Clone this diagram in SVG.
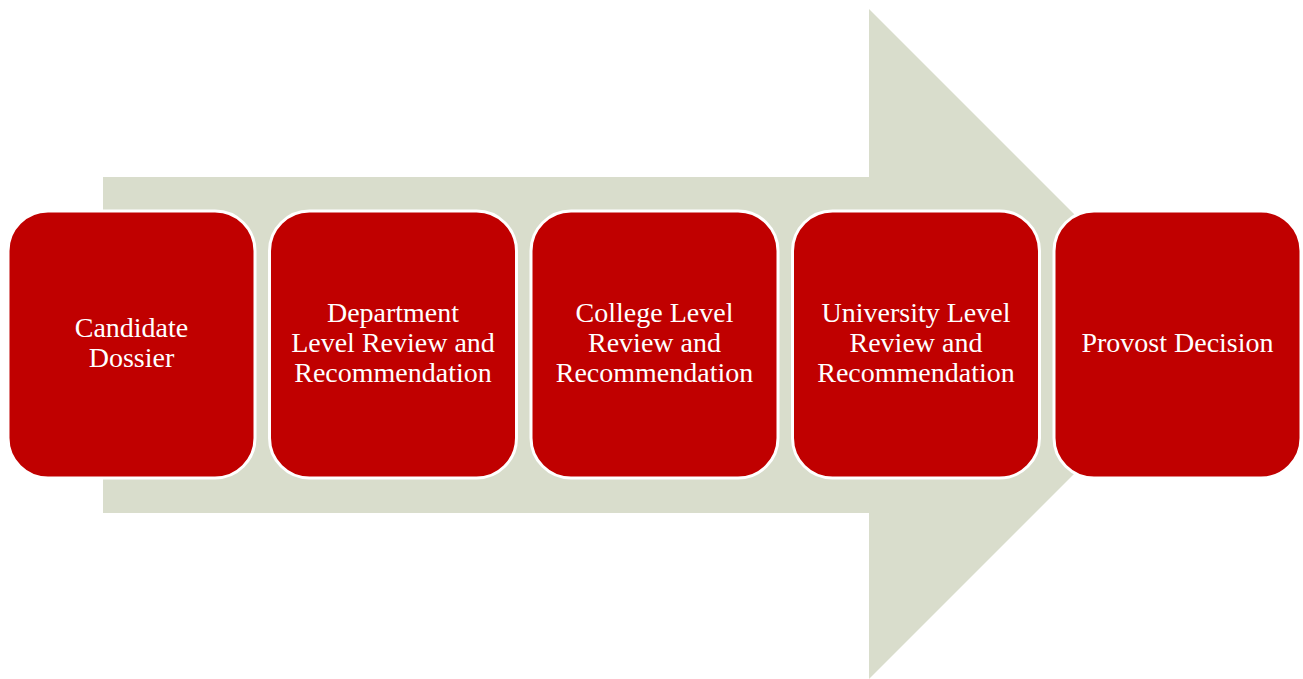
<svg xmlns="http://www.w3.org/2000/svg" width="1303" height="679" viewBox="0 0 1303 679">
<style>
.box{fill:#C00000;stroke:#FFFFFF;stroke-width:3}
.lbl{font-family:"Liberation Serif","Times New Roman",serif;font-size:28px;fill:#FFFFFF;text-anchor:middle}
</style>
<rect width="1303" height="679" fill="#FFFFFF"/>
<g id="connectors">
<polygon points="103,177 869,177 869,9 1204,344 869,679 869,513 103,513" fill="#D9DDCC"/>
</g>
<g id="n1"><rect class="box" x="8" y="211" width="247" height="267" rx="40"/><text class="lbl" x="131.5" y="337">Candidate</text><text class="lbl" x="131.5" y="367">Dossier</text></g>
<g id="n2"><rect class="box" x="269.5" y="211" width="247" height="267" rx="40"/><text class="lbl" x="393" y="322">Department</text><text class="lbl" x="393" y="352">Level Review and</text><text class="lbl" x="393" y="382">Recommendation</text></g>
<g id="n3"><rect class="box" x="531" y="211" width="247" height="267" rx="40"/><text class="lbl" x="654.5" y="322">College Level</text><text class="lbl" x="654.5" y="352">Review and</text><text class="lbl" x="654.5" y="382">Recommendation</text></g>
<g id="n4"><rect class="box" x="792.5" y="211" width="247" height="267" rx="40"/><text class="lbl" x="916" y="322">University Level</text><text class="lbl" x="916" y="352">Review and</text><text class="lbl" x="916" y="382">Recommendation</text></g>
<g id="n5"><rect class="box" x="1054" y="211" width="247" height="267" rx="40"/><text class="lbl" x="1177.5" y="352">Provost Decision</text></g>
</svg>
